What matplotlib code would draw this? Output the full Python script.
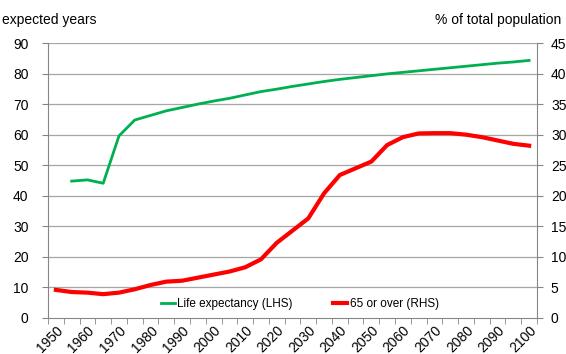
import matplotlib
matplotlib.use('Agg')
from matplotlib import pyplot as plt
from matplotlib.ticker import FixedLocator

plt.rcParams['font.family'] = ['Liberation Sans', 'DejaVu Sans']

# data, 5-year steps 1950-2100
years = list(range(1950, 2101, 5))
life_exp = [None, 44.8, 45.2, 44.1, 59.6, 64.8, 66.3, 67.8, 68.9, 70.0,
            71.0, 71.9, 73.0, 74.1, 74.9, 75.8, 76.6, 77.4, 78.1, 78.7,
            79.3, 79.9, 80.4, 80.9, 81.4, 81.9, 82.4, 82.9, 83.4, 83.8, 84.3]
over_65 = [4.6, 4.25, 4.15, 3.9, 4.15, 4.7, 5.4, 5.95, 6.1, 6.6,
           7.1, 7.6, 8.3, 9.6, 12.3, 14.3, 16.3, 20.4, 23.4, 24.5,
           25.6, 28.3, 29.6, 30.2, 30.25, 30.25, 30.0, 29.6, 29.05, 28.5, 28.2]

x = list(range(len(years)))
le_x = [i for i, v in zip(x, life_exp) if v is not None]
le_y = [v for v in life_exp if v is not None]

fig = plt.figure(figsize=(5.66, 3.54), dpi=100)
ax = fig.add_axes([0.0848, 0.1017, 0.864, 0.7768])
ax2 = ax.twinx()

spine_col = '#868686'
grid_col = '#a6a6a6'

ax.set_ylim(0, 90)
ax.set_yticks(range(0, 91, 10))
ax.set_xlim(-0.5, len(years) - 0.5)
for v in range(10, 91, 10):
    ax.axhline(v, color=grid_col, lw=0.9, zorder=0)

ax2.set_ylim(0, 45)
ax2.set_yticks(range(0, 46, 5))

l1, = ax.plot(le_x, le_y, color='#00B050', lw=2, label='Life expectancy (LHS)', zorder=3)
l2, = ax2.plot(x, over_65, color='#FF0000', lw=3, label='65 or over (RHS)', zorder=3)

# category labels every 10 years, tick marks at category boundaries
ax.set_xticks(x[::2])
ax.set_xticklabels([str(y) for y in years[::2]], rotation=45, ha='right',
                   rotation_mode='anchor', fontsize=10)
ax.xaxis.set_minor_locator(FixedLocator([i - 0.5 for i in range(len(years) + 1)]))
ax.tick_params(axis='x', which='major', length=0, pad=4)
ax.tick_params(axis='x', which='minor', length=4, color=spine_col, direction='out')
ax.tick_params(axis='y', length=4, color=spine_col, labelsize=10, pad=10)
ax2.tick_params(axis='y', length=4, color=spine_col, labelsize=10, pad=6)

for a in (ax, ax2):
    a.spines['top'].set_visible(False)
    for s in ('left', 'right', 'bottom'):
        a.spines[s].set_color(spine_col)
ax.spines['right'].set_visible(False)
ax2.spines['bottom'].set_visible(False)
ax2.spines['left'].set_visible(False)

ax.legend(handles=[l1, l2], loc='lower center', bbox_to_anchor=(0.515, -0.01), ncol=2,
          frameon=False, fontsize=8.5, handlelength=1.2, handletextpad=0.2,
          columnspacing=3.4)

fig.text(0.003, 0.925, 'expected years', fontsize=10, va='bottom')
fig.text(0.992, 0.925, '% of total population', fontsize=10, va='bottom', ha='right')

fig.savefig('out.png', dpi=100)
